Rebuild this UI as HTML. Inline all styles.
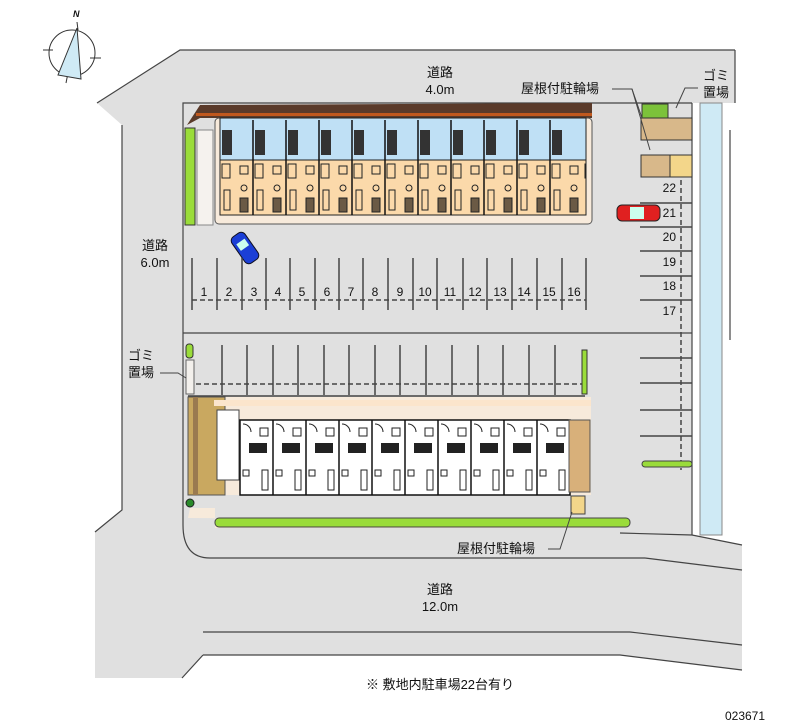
<!DOCTYPE html>
<html><head><meta charset="utf-8"><style>
html,body{margin:0;padding:0;background:#fff}
svg{display:block}
text{font-family:"Liberation Sans","Noto Sans CJK JP",sans-serif;fill:#111}
</style></head><body>
<svg width="800" height="727" viewBox="0 0 800 727" xmlns="http://www.w3.org/2000/svg">
<defs>
<pattern id="u" x="220" y="160" width="33" height="55" patternUnits="userSpaceOnUse">
<rect x="2" y="4" width="8" height="14" fill="none" stroke="#222"/>
<rect x="4" y="30" width="6" height="20" fill="none" stroke="#222"/>
<rect x="20" y="6" width="8" height="8" fill="none" stroke="#222"/>
<circle cx="24" cy="28" r="3" fill="none" stroke="#222"/>
<rect x="20" y="38" width="8" height="14" fill="#6b5a45" stroke="#222"/>
</pattern>
<pattern id="d" x="240" y="420" width="33" height="75" patternUnits="userSpaceOnUse">
<path d="M3,4 a8,8 0 0 1 8,8" fill="none" stroke="#222"/>
<rect x="20" y="8" width="8" height="8" fill="none" stroke="#222"/>
<rect x="22" y="50" width="6" height="20" fill="none" stroke="#222"/>
<rect x="3" y="50" width="6" height="6" fill="none" stroke="#222"/>
</pattern>
</defs>
<!-- compass -->
<g stroke="#333" stroke-width="1" fill="none">
<circle cx="72" cy="53" r="23"/>
<line x1="43" y1="50" x2="53" y2="50"/><line x1="90" y1="58" x2="101" y2="58"/>
<line x1="68" y1="73" x2="66" y2="83"/>
<polygon points="77,28 58,75 81,79" fill="#cfeaf5"/>
<line x1="77" y1="22" x2="78" y2="30"/>
</g>
<text x="73" y="17" font-size="9" font-style="italic" font-weight="bold">N</text>

<!-- gray ground -->
<polygon fill="#e0e0e0" points="180,50 735,50 735,103 692,103 692,535 742,545 742,670 620,655 203,655 182,678 95,678 95,532 122,510 122,125 97,103" />
<g stroke="#444" stroke-width="1.2" fill="none">
<polyline points="97,103 180,50 735,50"/>
<polyline points="122,125 122,510 95,532"/>
<line x1="203" y1="632" x2="630" y2="632"/><line x1="630" y1="632" x2="742" y2="645"/>
<polyline points="203,655 620,655 742,670"/>
<polyline points="203,655 182,678"/>
<line x1="600" y1="558" x2="645" y2="558"/><line x1="645" y1="558" x2="742" y2="570"/>
<path d="M183,125 L183,525 Q183,558 210,558 L600,558"/>
<polyline points="183,125 183,103 692,103"/>
<line x1="692" y1="103" x2="692" y2="535"/>
<polyline points="620,533 692,535 742,545"/>
<line x1="735" y1="50" x2="735" y2="103"/>
<line x1="730" y1="130" x2="730" y2="340"/>
<line x1="183" y1="333" x2="692" y2="333"/>
</g>
<!-- canal -->
<rect x="700" y="103" width="22" height="432" fill="#cfeaf5" stroke="#888" stroke-width="1"/>

<!-- top building -->
<polygon points="187,125 200,105 592,103 592,118 200,118" fill="#5a3a2a"/>
<rect x="196" y="113" width="396" height="3" fill="#c0581e"/>
<rect x="185" y="128" width="10" height="97" fill="#9adc3a" stroke="#333" stroke-width="1"/>
<rect x="197" y="130" width="16" height="95" fill="#f5f2ee" stroke="#888"/>
<rect x="215" y="118" width="377" height="106" fill="#f7eadb" stroke="#555" rx="4"/>
<g stroke="#222" stroke-width="1">
<rect x="220" y="118" width="366" height="42" fill="#bfe0f5"/>
<rect x="220" y="160" width="366" height="55" fill="#fbd9aa"/>
</g>
<rect x="220" y="160" width="366" height="55" fill="url(#u)"/>
<g stroke="#111" stroke-width="1.5">
<line x1="253" y1="120" x2="253" y2="215"/><line x1="286" y1="120" x2="286" y2="215"/><line x1="319" y1="120" x2="319" y2="215"/><line x1="352" y1="120" x2="352" y2="215"/><line x1="385" y1="120" x2="385" y2="215"/><line x1="418" y1="120" x2="418" y2="215"/><line x1="451" y1="120" x2="451" y2="215"/><line x1="484" y1="120" x2="484" y2="215"/><line x1="517" y1="120" x2="517" y2="215"/><line x1="550" y1="120" x2="550" y2="215"/>
</g>
<g fill="#333"><rect x="222" y="130" width="10" height="25"/><rect x="255" y="130" width="10" height="25"/><rect x="288" y="130" width="10" height="25"/><rect x="321" y="130" width="10" height="25"/><rect x="354" y="130" width="10" height="25"/><rect x="387" y="130" width="10" height="25"/><rect x="420" y="130" width="10" height="25"/><rect x="453" y="130" width="10" height="25"/><rect x="486" y="130" width="10" height="25"/><rect x="519" y="130" width="10" height="25"/><rect x="552" y="130" width="10" height="25"/></g>

<!-- blue car -->
<g transform="rotate(-35 245 248)"><rect x="237" y="232" width="16" height="32" rx="5" fill="#1b3fd6" stroke="#112"/><rect x="240" y="240" width="10" height="8" fill="#cfe"/></g>

<!-- top parking -->
<g stroke="#444" stroke-width="1.5">
<line x1="192" y1="258" x2="192" y2="310"/><line x1="217" y1="258" x2="217" y2="310"/><line x1="242" y1="258" x2="242" y2="310"/><line x1="266" y1="258" x2="266" y2="310"/><line x1="290" y1="258" x2="290" y2="310"/><line x1="315" y1="258" x2="315" y2="310"/><line x1="339" y1="258" x2="339" y2="310"/><line x1="363" y1="258" x2="363" y2="310"/><line x1="388" y1="258" x2="388" y2="310"/><line x1="413" y1="258" x2="413" y2="310"/><line x1="437" y1="258" x2="437" y2="310"/><line x1="463" y1="258" x2="463" y2="310"/><line x1="487" y1="258" x2="487" y2="310"/><line x1="512" y1="258" x2="512" y2="310"/><line x1="537" y1="258" x2="537" y2="310"/><line x1="562" y1="258" x2="562" y2="310"/><line x1="586" y1="258" x2="586" y2="310"/>
</g>
<line x1="192" y1="300" x2="586" y2="300" stroke="#444" stroke-width="1.5" stroke-dasharray="5,3"/>
<g font-size="12" text-anchor="middle">
<text x="204" y="296">1</text><text x="229" y="296">2</text><text x="254" y="296">3</text><text x="278" y="296">4</text><text x="302" y="296">5</text><text x="327" y="296">6</text><text x="351" y="296">7</text><text x="375" y="296">8</text><text x="400" y="296">9</text><text x="425" y="296">10</text><text x="450" y="296">11</text><text x="475" y="296">12</text><text x="500" y="296">13</text><text x="524" y="296">14</text><text x="549" y="296">15</text><text x="574" y="296">16</text>
</g>

<!-- lower parking -->
<g stroke="#444" stroke-width="1.5">
<line x1="222" y1="345" x2="222" y2="395"/><line x1="247" y1="345" x2="247" y2="395"/><line x1="273" y1="345" x2="273" y2="395"/><line x1="298" y1="345" x2="298" y2="395"/><line x1="324" y1="345" x2="324" y2="395"/><line x1="349" y1="345" x2="349" y2="395"/><line x1="375" y1="345" x2="375" y2="395"/><line x1="400" y1="345" x2="400" y2="395"/><line x1="426" y1="345" x2="426" y2="395"/><line x1="452" y1="345" x2="452" y2="395"/><line x1="478" y1="345" x2="478" y2="395"/><line x1="503" y1="345" x2="503" y2="395"/><line x1="529" y1="345" x2="529" y2="395"/><line x1="555" y1="345" x2="555" y2="395"/>
<line x1="188" y1="396" x2="585" y2="396"/>
</g>
<line x1="196" y1="384" x2="582" y2="384" stroke="#444" stroke-width="1.5" stroke-dasharray="5,3"/>
<rect x="186" y="344" width="7" height="14" rx="3" fill="#9adc3a" stroke="#333"/>
<rect x="186" y="360" width="8" height="34" fill="#f3f0ec" stroke="#666"/>
<rect x="582" y="350" width="5" height="44" fill="#9adc3a" stroke="#333"/>

<!-- lower building -->
<rect x="188" y="397" width="403" height="98" fill="#f7eadb"/>
<rect x="188" y="397" width="37" height="98" fill="#c9a860" stroke="#555"/>
<rect x="193" y="397" width="5" height="98" fill="#9a7a50"/>
<rect x="214" y="400" width="377" height="6" fill="#fbe5cc"/>
<rect x="217" y="410" width="22" height="70" fill="#fff" stroke="#444"/>
<rect x="240" y="420" width="330" height="75" fill="#fff" stroke="#111" stroke-width="1.5"/>
<rect x="240" y="420" width="330" height="75" fill="url(#d)"/>
<g stroke="#111" stroke-width="1.5">
<line x1="273" y1="420" x2="273" y2="495"/><line x1="306" y1="420" x2="306" y2="495"/><line x1="339" y1="420" x2="339" y2="495"/><line x1="372" y1="420" x2="372" y2="495"/><line x1="405" y1="420" x2="405" y2="495"/><line x1="438" y1="420" x2="438" y2="495"/><line x1="471" y1="420" x2="471" y2="495"/><line x1="504" y1="420" x2="504" y2="495"/><line x1="537" y1="420" x2="537" y2="495"/>
</g>
<g fill="#222"><rect x="249" y="443" width="18" height="10"/><rect x="282" y="443" width="18" height="10"/><rect x="315" y="443" width="18" height="10"/><rect x="348" y="443" width="18" height="10"/><rect x="381" y="443" width="18" height="10"/><rect x="414" y="443" width="18" height="10"/><rect x="447" y="443" width="18" height="10"/><rect x="480" y="443" width="18" height="10"/><rect x="513" y="443" width="18" height="10"/><rect x="546" y="443" width="18" height="10"/></g>
<rect x="569" y="420" width="21" height="72" fill="#d8b07a" stroke="#555"/>
<rect x="571" y="496" width="14" height="18" fill="#f3d68a" stroke="#444"/>
<polygon points="190,508 215,508 215,528 600,528 610,520 188,518" fill="#f7eadb"/>
<rect x="215" y="518" width="415" height="9" rx="4" fill="#9adc3a" stroke="#444"/>
<circle cx="190" cy="503" r="4" fill="#2a8a2a" stroke="#222"/>

<!-- right side -->
<rect x="642" y="104" width="26" height="14" fill="#7cc23a" stroke="#333"/>
<rect x="641" y="118" width="51" height="22" fill="#d8b88a" stroke="#333"/>
<rect x="641" y="155" width="29" height="22" fill="#d8b88a" stroke="#333"/>
<rect x="670" y="155" width="22" height="22" fill="#f3d68a" stroke="#333"/>
<rect x="617" y="205" width="43" height="16" rx="5" fill="#e02020" stroke="#222"/>
<rect x="630" y="207" width="14" height="12" fill="#cfe"/>
<g stroke="#444" stroke-width="1.5">
<line x1="640" y1="203" x2="692" y2="203"/><line x1="640" y1="227" x2="692" y2="227"/><line x1="640" y1="251" x2="692" y2="251"/><line x1="640" y1="276" x2="692" y2="276"/><line x1="640" y1="300" x2="692" y2="300"/>
<line x1="640" y1="358" x2="692" y2="358"/><line x1="640" y1="383" x2="692" y2="383"/><line x1="640" y1="410" x2="692" y2="410"/><line x1="640" y1="436" x2="692" y2="436"/>
</g>
<line x1="681" y1="180" x2="681" y2="470" stroke="#444" stroke-width="1.5" stroke-dasharray="5,3"/>
<rect x="642" y="461" width="50" height="6" rx="3" fill="#9adc3a" stroke="#444"/>
<g font-size="12" text-anchor="end">
<text x="676" y="192">22</text><text x="676" y="217">21</text><text x="676" y="241">20</text><text x="676" y="266">19</text><text x="676" y="290">18</text><text x="676" y="315">17</text>
</g>

<!-- leaders -->
<g stroke="#444" fill="none" stroke-width="1">
<polyline points="612,89 632,89 642,118"/><line x1="632" y1="89" x2="650" y2="150"/>
<polyline points="698,88 685,88 676,108"/>
<polyline points="160,373 178,373 186,378"/>
<polyline points="548,549 560,549 572,512"/>
</g>

<!-- labels -->
<g font-size="13" text-anchor="middle">
<text x="440" y="77">道路</text><text x="440" y="94">4.0m</text>
<text x="560" y="93">屋根付駐輪場</text>
<text x="716" y="80">ゴミ</text><text x="716" y="97">置場</text>
<text x="155" y="250">道路</text><text x="155" y="267">6.0m</text>
<text x="141" y="360">ゴミ</text><text x="141" y="377">置場</text>
<text x="496" y="553">屋根付駐輪場</text>
<text x="440" y="594">道路</text><text x="440" y="611">12.0m</text>
<text x="440" y="689">※ 敷地内駐車場22台有り</text>
<text x="745" y="720" font-size="12">023671</text>
</g>
</svg>
</body></html>
